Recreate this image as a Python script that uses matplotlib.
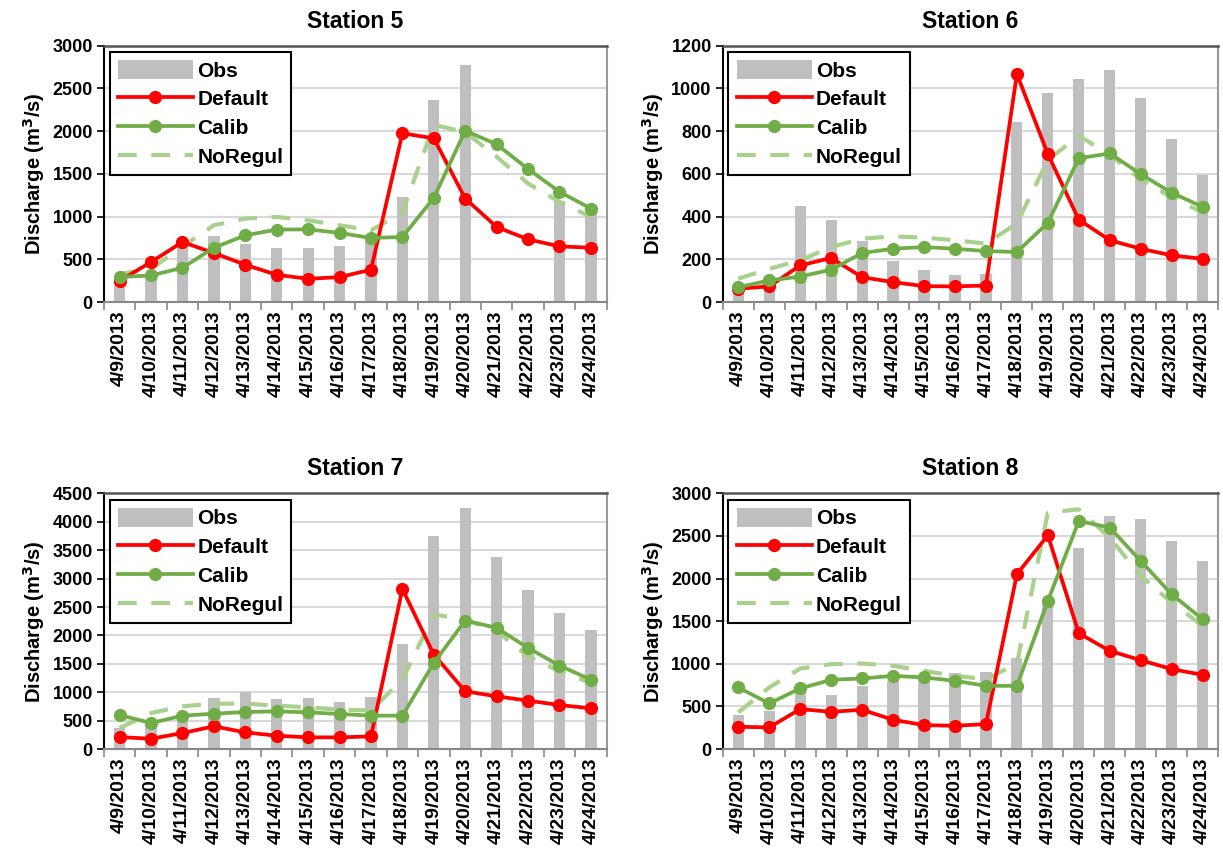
import numpy as np
import matplotlib
matplotlib.use("Agg")
import matplotlib.pyplot as plt

plt.rcParams['font.family'] = ['Liberation Sans', 'DejaVu Sans']
plt.rcParams['font.weight'] = 'bold'
plt.rcParams['mathtext.default'] = 'bf'

dates = ['4/9/2013', '4/10/2013', '4/11/2013', '4/12/2013', '4/13/2013', '4/14/2013',
         '4/15/2013', '4/16/2013', '4/17/2013', '4/18/2013', '4/19/2013', '4/20/2013',
         '4/21/2013', '4/22/2013', '4/23/2013', '4/24/2013']

stations = ['Station 5', 'Station 6', 'Station 7', 'Station 8']
y_max = [3000, 1200, 4500, 3000]
y_step = [500, 200, 500, 500]

# observed discharge (nan = no observation)
obs_5 = [300, 330, 650, 775, 680, 630, 630, 655, 720, 1230, 2360, 2770, np.nan, np.nan, 1180, 1030]
obs_6 = [70, 55, 449, 386, 286, 192, 149, 128, 133, 845, 978, 1045, 1088, 954, 762, 595]
obs_7 = [370, 450, 560, 899, 999, 881, 899, 828, 916, 1857, 3748, 4236, 3384, 2808, 2397, 2092]
obs_8 = [402, 449, 664, 633, 742, 793, 820, 887, 906, 1063, 1720, 2355, 2730, 2695, 2441, 2203]

default_5 = [250, 470, 704, 575, 438, 320, 274, 293, 380, 1975, 1916, 1212, 880, 735, 653, 637]
default_6 = [63, 74, 172, 207, 117, 94, 75, 74, 78, 1067, 693, 386, 290, 250, 219, 203]
default_7 = [211, 182, 282, 400, 294, 235, 206, 206, 223, 2820, 1663, 1016, 928, 852, 775, 717]
default_8 = [262, 254, 469, 437, 461, 344, 281, 273, 293, 2051, 2508, 1359, 1152, 1043, 938, 871]

calib_5 = [295, 313, 403, 637, 782, 849, 852, 810, 751, 763, 1220, 2006, 1846, 1557, 1291, 1095]
calib_6 = [70, 102, 120, 152, 230, 250, 258, 250, 239, 235, 371, 673, 696, 599, 512, 446]
calib_7 = [599, 458, 588, 623, 652, 664, 646, 617, 588, 588, 1516, 2262, 2133, 1780, 1469, 1222]
calib_8 = [723, 535, 711, 813, 828, 859, 840, 801, 742, 742, 1738, 2676, 2598, 2207, 1816, 1523]

noregul_5 = [330, 390, 650, 900, 978, 997, 958, 900, 840, 1050, 2073, 1990, 1700, 1388, 1173, 997]
noregul_6 = [110, 156, 196, 258, 297, 308, 302, 290, 274, 368, 665, 778, 690, 575, 490, 420]
noregul_7 = [370, 634, 752, 799, 799, 764, 734, 693, 680, 1222, 2368, 2280, 2074, 1633, 1369, 1163]
noregul_8 = [430, 723, 945, 996, 1004, 977, 918, 859, 820, 1000, 2773, 2813, 2480, 2031, 1719, 1445]

obs_all = [obs_5, obs_6, obs_7, obs_8]
default_all = [default_5, default_6, default_7, default_8]
calib_all = [calib_5, calib_6, calib_7, calib_8]
noregul_all = [noregul_5, noregul_6, noregul_7, noregul_8]

fig = plt.figure(figsize=(12.23, 8.61), dpi=100)
positions = [[0.085, 0.649, 0.411, 0.298],
             [0.591, 0.649, 0.405, 0.298],
             [0.085, 0.130, 0.411, 0.297],
             [0.591, 0.130, 0.405, 0.297]]

x = np.arange(len(dates))
for i in range(4):
    ax = fig.add_axes(positions[i])
    b = ax.bar(x, obs_all[i], width=0.36, color='#BFBFBF', label='Obs', zorder=2)
    l1, = ax.plot(x, default_all[i], color='#FF0000', lw=2.7, marker='o', ms=8.5, label='Default', zorder=4)
    l2, = ax.plot(x, calib_all[i], color='#70AD47', lw=2.7, marker='o', ms=8.5, label='Calib', zorder=4)
    l3, = ax.plot(x, noregul_all[i], color='#A9D18E', lw=3, dashes=(4.5, 3.5), label='NoRegul', zorder=3)

    ax.set_xlim(-0.5, len(dates) - 0.5)
    ax.set_ylim(0, y_max[i])
    ax.set_yticks(np.arange(0, y_max[i] + 1, y_step[i]))
    ax.tick_params(axis='y', labelsize=13, length=5, width=1.2, pad=3)
    for lab in ax.get_yticklabels():
        lab.set_fontweight('bold')
    ax.yaxis.grid(True, color='#D9D9D9', lw=1.5, zorder=0)
    ax.set_axisbelow(True)

    # category ticks between dates, labels at centres
    ax.set_xticks(np.arange(-0.5, len(dates), 1.0))
    ax.set_xticklabels([])
    ax.set_xticks(x, minor=True)
    ax.set_xticklabels(dates, minor=True, rotation=90, fontsize=14, fontweight='bold')
    ax.tick_params(axis='x', which='major', length=6, color='#888888', width=1.2)
    ax.tick_params(axis='x', which='minor', length=0, pad=6)

    ax.spines['left'].set_color('black')
    ax.spines['left'].set_linewidth(1.5)
    ax.spines['bottom'].set_color('#888888')
    ax.spines['bottom'].set_linewidth(1.5)
    ax.spines['top'].set_color('#555555')
    ax.spines['top'].set_linewidth(1.8)
    ax.spines['right'].set_color('#999999')
    ax.spines['right'].set_linewidth(1.5)

    ax.set_ylabel('Discharge (m$^3$/s)', fontsize=14.5, fontweight='bold', labelpad=4)
    ax.set_title(stations[i], fontsize=16.5, fontweight='bold', pad=13)

    leg = ax.legend([b, l1, l2, l3], ['Obs', 'Default', 'Calib', 'NoRegul'],
                    loc='upper left', bbox_to_anchor=(0.003, 0.992),
                    prop={'size': 15, 'weight': 'bold'},
                    handlelength=3.6, handleheight=1.0, handletextpad=0.2, borderpad=0.4,
                    labelspacing=0.4, fancybox=False, framealpha=1,
                    edgecolor='black', borderaxespad=0.2)
    leg.get_frame().set_linewidth(1.5)
    leg.set_zorder(10)

fig.savefig('out.png', dpi=100)
